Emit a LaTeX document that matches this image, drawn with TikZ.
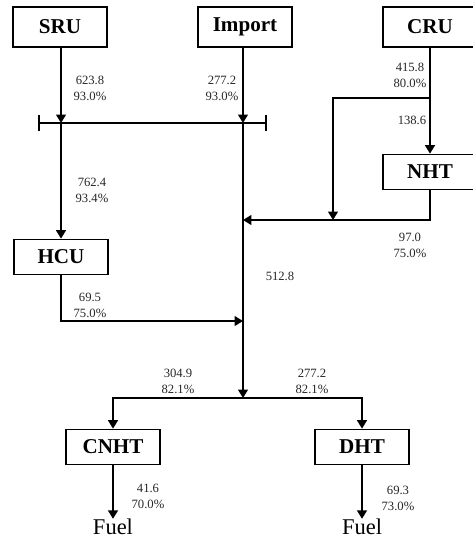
\documentclass[tikz,border=0pt]{standalone}
\usepackage{fontspec}
\setmainfont{Liberation Serif}
\usetikzlibrary{arrows.meta, positioning, calc}

\begin{document}
\begin{tikzpicture}[x=0.025cm, y=-0.025cm,
  unit/.style={rectangle, draw, line width=1.1pt, font=\fontsize{15}{18}\selectfont\bfseries,
               minimum width=2.35cm, minimum height=0.88cm, inner sep=0pt},
  feedbox/.style={unit, minimum height=1cm},
  flow/.style={line width=1.2pt},
  arr/.style={flow, -{Triangle[length=6pt, width=7pt]}},
  lbl/.style={font=\fontsize{9}{11.3}\selectfont, text=black!85, align=center, inner sep=0pt},
  product/.style={font=\fontsize{16}{18}\selectfont, inner sep=0pt},
]
  \useasboundingbox (0,0) rectangle (473,541);

  % units
  \node[feedbox] (sru) at (60,27)   {SRU};
  \node[feedbox] (imp) at (245,27)  {Import};
  \node[feedbox] (cru) at (430,27)  {CRU};
  \node[unit] (nht) at (430,172) {NHT};
  \node[unit] (hcu) at (61,257)  {HCU};
  \node[unit] (cnht) at (113,447) {CNHT};
  \node[unit] (dht) at (362,447) {DHT};
  \node[product] (fuelA) at (113,527) {Fuel};
  \node[product] (fuelB) at (362,527) {Fuel};

  % junctions
  \coordinate (barL) at (38,123);
  \coordinate (barR) at (267,123);
  \coordinate (sruJ) at (61,123);
  \coordinate (impJ) at (243,123);
  \coordinate (cruJ) at (430,98);
  \coordinate (brJ)  at (333,98);
  \coordinate (nhtJ) at (243,220);
  \coordinate (brE)  at (333,220);
  \coordinate (hcuJ) at (243,321);
  \coordinate (spl)  at (243,398);

  % mixing bar
  \draw[flow, {Bar[width=11pt]}-{Bar[width=11pt]}] (barL) -- (barR);

  \draw[arr] (sru.south -| sruJ) -- (sruJ);
  \draw[arr] (sruJ) -- (hcu.north -| sruJ);
  \draw[arr] (imp.south -| impJ) -- (impJ);
  \draw[arr] (impJ) -- (spl);

  \draw[flow] (cru) -- (cruJ);
  \draw[arr] (cruJ) -- (nht);
  \draw[arr] (cruJ) -- (brJ) -- (brE);
  \draw[arr] (nht.south) |- (nhtJ);
  \draw[arr] (hcu.south -| sruJ) |- (hcuJ);

  \draw[arr] (spl) -| (cnht.north);
  \draw[arr] (spl) -| (dht.north);
  \draw[arr] (cnht) -- (fuelA);
  \draw[arr] (dht) -- (fuelB);

  % stream labels
  \node[lbl] (q1)  at (90,88)   {623.8\\93.0\%};
  \node[lbl] (q2)  at (222,88)  {277.2\\93.0\%};
  \node[lbl] (q3)  at (410,75)  {415.8\\80.0\%};
  \node[lbl] (q4)  at (412,120) {138.6};
  \node[lbl] (q5)  at (410,245) {97.0\\75.0\%};
  \node[lbl] (q6)  at (280,276) {512.8};
  \node[lbl] (q7)  at (92,190)  {762.4\\93.4\%};
  \node[lbl] (q8)  at (90,305)  {69.5\\75.0\%};
  \node[lbl] (q9)  at (178,381) {304.9\\82.1\%};
  \node[lbl] (q10) at (312,381) {277.2\\82.1\%};
  \node[lbl] (q11) at (148,496) {41.6\\70.0\%};
  \node[lbl] (q12) at (398,498) {69.3\\73.0\%};
\end{tikzpicture}
\end{document}
